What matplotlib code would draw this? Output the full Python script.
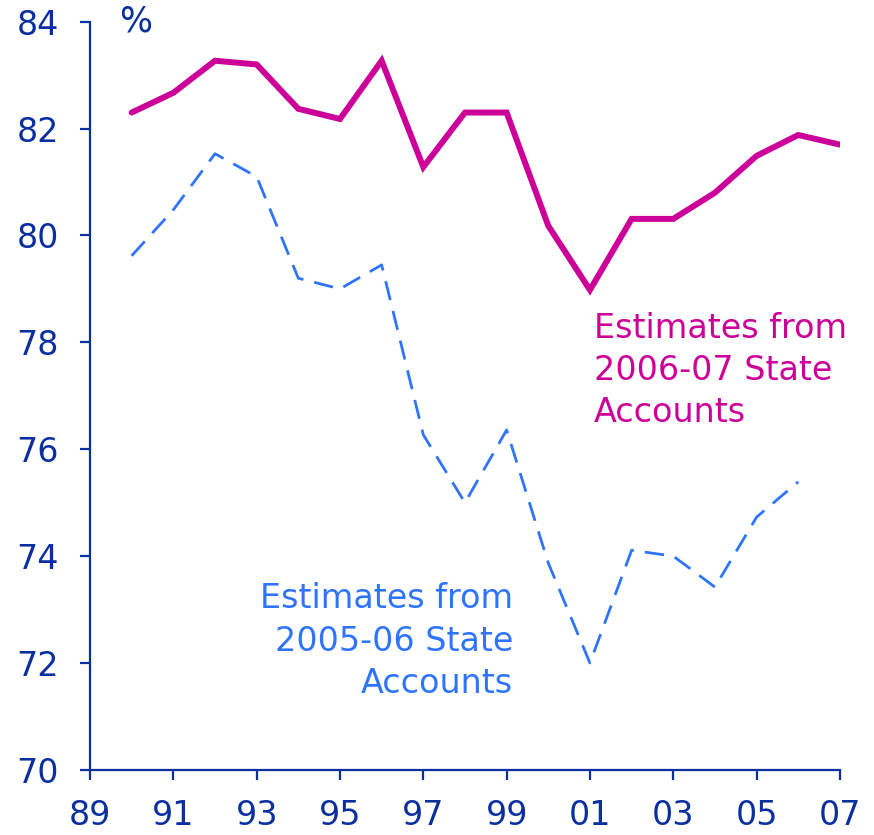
import matplotlib
matplotlib.use("Agg")
import matplotlib.pyplot as plt

# Data (per cent)
years_new = list(range(1990, 2008))
est_2006_07 = [82.3, 82.67, 83.27, 83.2, 82.37, 82.18, 83.27, 81.28, 82.3,
               82.3, 80.18, 78.98, 80.31, 80.31, 80.8, 81.49, 81.88, 81.7]

years_old = list(range(1990, 2007))
est_2005_06 = [79.62, 80.48, 81.53, 81.1, 79.2, 79.0, 79.45, 76.27, 75.0,
               76.36, 73.87, 72.0, 74.11, 74.0, 73.42, 74.73, 75.39]

x_ticks = list(range(1989, 2008, 2))
x_tick_labels = ['89', '91', '93', '95', '97', '99', '01', '03', '05', '07']
y_ticks = [70, 72, 74, 76, 78, 80, 82, 84]

AXIS_COLOR = '#0b2f9f'
MAGENTA = '#cc0099'
BLUE = '#2f74ff'

plt.rcParams['font.family'] = ['DejaVu Sans']

fig = plt.figure(figsize=(8.74, 8.35), dpi=100)
ax = fig.add_axes([0.103, 0.078, 0.858, 0.896])

ax.plot(years_new, est_2006_07, color=MAGENTA, linewidth=4.3,
        solid_capstyle='round', solid_joinstyle='miter')
ax.plot(years_old, est_2005_06, color=BLUE, linewidth=2.0,
        linestyle=(0, (7, 4)))

ax.set_xlim(1989, 2007)
ax.set_ylim(70, 84)
ax.set_xticks(x_ticks)
ax.set_xticklabels(x_tick_labels)
ax.set_yticks(y_ticks)

for side in ['top', 'right']:
    ax.spines[side].set_visible(False)
for side in ['left', 'bottom']:
    ax.spines[side].set_color(AXIS_COLOR)
    ax.spines[side].set_linewidth(1.6)

ax.tick_params(axis='both', colors=AXIS_COLOR, labelsize=24, length=7,
               width=1.6, direction='out')
ax.tick_params(axis='x', pad=14)
ax.tick_params(axis='y', pad=15.5)

ax.text(1989.7, 84.0, '%', color=AXIS_COLOR, fontsize=25,
        ha='left', va='center')

ax.text(2001.1, 77.47, 'Estimates from\n2006-07 State\nAccounts',
        color=MAGENTA, fontsize=24, ha='left', va='center',
        linespacing=1.35)
ax.text(1999.15, 72.41, 'Estimates from\n2005-06 State\nAccounts',
        color=BLUE, fontsize=24, ha='right', va='center',
        multialignment='right', linespacing=1.35)

fig.savefig('out.png', dpi=100)
